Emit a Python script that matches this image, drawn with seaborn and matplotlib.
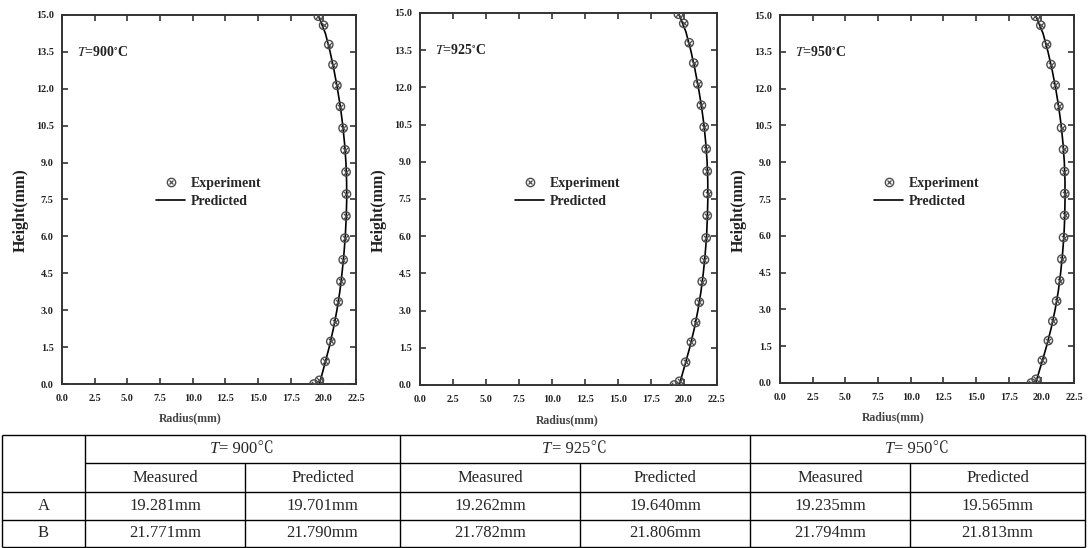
import matplotlib
matplotlib.use("Agg")
import numpy as np
import pandas as pd
import matplotlib.pyplot as plt
import seaborn as sns
from matplotlib.lines import Line2D

# ---------------- data ----------------
temperatures = [900, 925, 950]

# measured profile (height in mm, radius in mm)
exp_height = [0.0, 0.15, 0.92, 1.73, 2.52, 3.34, 4.17, 5.05, 5.93, 6.83,
              7.72, 8.62, 9.52, 10.40, 11.28, 12.14, 12.98, 13.80, 14.58, 14.95]
exp_radius_900 = [19.281, 19.70, 20.14, 20.57, 20.86, 21.14, 21.35, 21.52, 21.65, 21.73,
                  21.771, 21.74, 21.66, 21.51, 21.31, 21.04, 20.74, 20.42, 20.02, 19.62]
exp_radius_925 = [19.262, 19.66, 20.12, 20.56, 20.88, 21.16, 21.38, 21.55, 21.68, 21.76,
                  21.782, 21.76, 21.68, 21.53, 21.32, 21.05, 20.74, 20.40, 19.98, 19.58]
exp_radius_950 = [19.235, 19.60, 20.08, 20.54, 20.88, 21.17, 21.40, 21.57, 21.70, 21.78,
                  21.794, 21.77, 21.70, 21.55, 21.34, 21.06, 20.74, 20.40, 19.96, 19.55]

# model profile
pred_height = [0.0, 0.75, 1.5, 2.25, 3.0, 3.75, 4.5, 5.25, 6.0, 6.75, 7.5,
               8.25, 9.0, 9.75, 10.5, 11.25, 12.0, 12.75, 13.5, 14.25, 15.0]
pred_radius_900 = [19.701, 20.08, 20.45, 20.77, 21.04, 21.26, 21.43, 21.57, 21.68, 21.75, 21.790,
                   21.78, 21.73, 21.63, 21.49, 21.31, 21.08, 20.82, 20.52, 20.16, 19.60]
pred_radius_925 = [19.640, 20.04, 20.43, 20.77, 21.05, 21.28, 21.46, 21.60, 21.71, 21.77, 21.806,
                   21.80, 21.75, 21.65, 21.51, 21.32, 21.09, 20.82, 20.51, 20.14, 19.58]
pred_radius_950 = [19.565, 19.99, 20.40, 20.76, 21.06, 21.30, 21.48, 21.62, 21.73, 21.79, 21.813,
                   21.81, 21.76, 21.66, 21.52, 21.33, 21.10, 20.83, 20.51, 20.13, 19.55]

x_ticks = [0.0, 2.5, 5.0, 7.5, 10.0, 12.5, 15.0, 17.5, 20.0, 22.5]
y_ticks = [0.0, 1.5, 3.0, 4.5, 6.0, 7.5, 9.0, 10.5, 12.0, 13.5, 15.0]

# summary table
row_labels = ["A", "B"]
column_headers = ["Measured", "Predicted"]
measured_A = ["19.281mm", "19.262mm", "19.235mm"]
predicted_A = ["19.701mm", "19.640mm", "19.565mm"]
measured_B = ["21.771mm", "21.782mm", "21.794mm"]
predicted_B = ["21.790mm", "21.806mm", "21.813mm"]

exp_df = pd.concat([
    pd.DataFrame({"T": t, "height": exp_height, "radius": r})
    for t, r in zip(temperatures, [exp_radius_900, exp_radius_925, exp_radius_950])
])
pred_df = pd.concat([
    pd.DataFrame({"T": t, "height": pred_height, "radius": r})
    for t, r in zip(temperatures, [pred_radius_900, pred_radius_925, pred_radius_950])
])

# ---------------- style ----------------
sns.set_theme(style="ticks")
plt.rcParams["font.family"] = ["Liberation Serif", "Noto Sans CJK SC", "DejaVu Sans"]
plt.rcParams["mathtext.fontset"] = "stix"

W, H = 1088, 548
fig = plt.figure(figsize=(W / 100, H / 100), dpi=100)
fig.patch.set_facecolor("white")

# pixel boxes (left, right, top, bottom) of the three panels
panel_boxes = [(62, 356, 15, 384), (420, 717, 13, 385), (780, 1074, 15, 383)]
xlabel_pos = [0.435, 0.495, 0.384]

axis_col = "#333333"
mark_col = "#4d4d4d"

for t, (l, r, tp, b), xl in zip(temperatures, panel_boxes, xlabel_pos):
    ax = fig.add_axes([l / W, (H - b) / H, (r - l) / W, (b - tp) / H])
    sub_p = pred_df[pred_df["T"] == t]
    sub_e = exp_df[exp_df["T"] == t]
    sns.lineplot(data=sub_p, x="radius", y="height", sort=False, estimator=None,
                 color="black", linewidth=1.2, ax=ax, zorder=2)
    sns.scatterplot(data=sub_e, x="radius", y="height", marker="o", s=36,
                    facecolors="none", edgecolor=mark_col, linewidth=1.0, ax=ax, zorder=3)
    sns.scatterplot(data=sub_e, x="radius", y="height", marker="x", s=14,
                    color=mark_col, linewidth=0.9, ax=ax, zorder=3)

    ax.set_xlim(0, 22.5)
    ax.set_ylim(0, 15)
    ax.set_xticks(x_ticks)
    ax.set_yticks(y_ticks)
    ax.set_xticklabels([f"{v:.1f}" for v in x_ticks])
    ax.set_yticklabels([f"{v:.1f}" for v in y_ticks])
    ax.tick_params(direction="in", length=4, width=1.2, color=axis_col,
                   top=True, right=True, labelsize=7.3, labelcolor="#222222")
    ax.tick_params(axis="x", pad=7)
    ax.tick_params(axis="y", pad=6)
    for lab in ax.get_xticklabels() + ax.get_yticklabels():
        lab.set_fontweight("bold")
    for sp in ax.spines.values():
        sp.set_visible(True)
        sp.set_color(axis_col)
        sp.set_linewidth(1.4)

    ax.set_xlabel("Radius(mm)", fontsize=8.5, fontweight="bold", color="#444444")
    ax.xaxis.set_label_coords(xl, -0.078)
    ax.set_ylabel("Height(mm)", fontsize=11.5, fontweight="bold", color="#222222")
    ax.yaxis.set_label_coords(-33 / (r - l), 0.47)

    ax.text(0.05, 0.90, rf"$\mathit{{T}}$={t}$^{{\circ}}$C", transform=ax.transAxes,
            fontsize=10, fontweight="bold", ha="left", va="center", color="#222222")

    h_exp = (Line2D([], [], marker="o", ls="none", mfc="none", mec=mark_col, mew=1.0, ms=6),
             Line2D([], [], marker="x", ls="none", color=mark_col, mew=0.9, ms=3.5))
    h_pred = Line2D([], [], color="black", lw=1.2)
    ax.legend(handles=[h_exp, h_pred], labels=["Experiment", "Predicted"],
              loc="upper left", bbox_to_anchor=(0.32, 0.56), frameon=False,
              borderpad=0, borderaxespad=0, handlelength=2.1, handletextpad=0.4,
              labelspacing=0.35, prop={"weight": "bold", "size": 10})

# ---------------- table ----------------
tab = fig.add_axes([0, 0, 1, 1], zorder=-1)
tab.set_xlim(0, W)
tab.set_ylim(H, 0)
tab.axis("off")

col_edges = [2, 85, 245, 400, 580, 750, 910, 1085]
row_edges = [435, 463, 492, 520, 546.5]
lw = 1.0
tab.hlines([row_edges[0], row_edges[2], row_edges[3], row_edges[4]], col_edges[0], col_edges[-1],
           color="black", lw=lw)
tab.hlines(row_edges[1], col_edges[1], col_edges[-1], color="black", lw=lw)
tab.vlines([col_edges[0], col_edges[1], col_edges[3], col_edges[5], col_edges[7]],
           row_edges[0], row_edges[-1], color="black", lw=lw)
tab.vlines([col_edges[2], col_edges[4], col_edges[6]], row_edges[1], row_edges[-1],
           color="black", lw=lw)

fs = 12
row_mid = [(row_edges[i] + row_edges[i + 1]) / 2 for i in range(4)]
for g, t in enumerate(temperatures):
    x0, xm, x1 = col_edges[1 + 2 * g], col_edges[2 + 2 * g], col_edges[3 + 2 * g]
    xc = (x0 + x1) / 2
    t_obj = tab.text(xc - 33, row_mid[0], "T", style="italic", fontsize=fs,
                     ha="left", va="center")
    tab.annotate(f"= {t}℃", xy=(1, 0.5), xycoords=t_obj, xytext=(0.5, 0),
                 textcoords="offset points", ha="left", va="center", fontsize=fs,
                 family=["Liberation Serif", "Noto Serif CJK SC", "Noto Sans CJK SC"],
                 fontweight="light")
    cm, cp = (x0 + xm) / 2, (xm + x1) / 2
    tab.text(cm, row_mid[1], column_headers[0], fontsize=fs, ha="center", va="center")
    tab.text(cp, row_mid[1], column_headers[1], fontsize=fs, ha="center", va="center")
    tab.text(cm, row_mid[2], measured_A[g], fontsize=fs, ha="center", va="center")
    tab.text(cp, row_mid[2], predicted_A[g], fontsize=fs, ha="center", va="center")
    tab.text(cm, row_mid[3], measured_B[g], fontsize=fs, ha="center", va="center")
    tab.text(cp, row_mid[3], predicted_B[g], fontsize=fs, ha="center", va="center")

for i, lab in enumerate(row_labels):
    tab.text((col_edges[0] + col_edges[1]) / 2, row_mid[2 + i], lab, fontsize=fs,
             ha="center", va="center")

fig.savefig("out.png", dpi=100)
